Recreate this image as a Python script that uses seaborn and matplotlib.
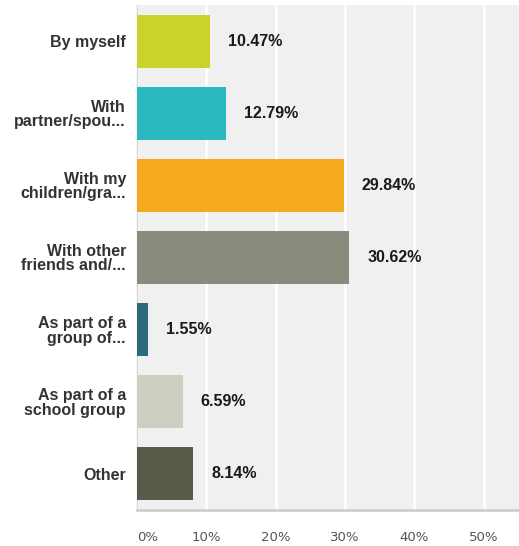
import matplotlib
matplotlib.use("Agg")
import matplotlib.pyplot as plt
import seaborn as sns
import pandas as pd

# Survey answers: who the respondent visits with
categories = [
    "By myself",
    "With\npartner/spou...",
    "With my\nchildren/gra...",
    "With other\nfriends and/...",
    "As part of a\ngroup of...",
    "As part of a\nschool group",
    "Other",
]
percentages = [10.47, 12.79, 29.84, 30.62, 1.55, 6.59, 8.14]
value_labels = ["10.47%", "12.79%", "29.84%", "30.62%", "1.55%", "6.59%", "8.14%"]
tick_values = [0, 10, 20, 30, 40, 50]
tick_labels = ["0%", "10%", "20%", "30%", "40%", "50%"]
bar_colors = ["#cbd22a", "#2cb8c0", "#f5a91f", "#8a8b7d", "#2b6b7c", "#cfcfc1", "#5a5a4b"]

df = pd.DataFrame({"category": categories, "pct": percentages})

sns.set_style("white")
plt.rcParams["font.family"] = ["Liberation Sans", "DejaVu Sans"]

fig = plt.figure(figsize=(5.19, 5.46), dpi=100)
ax = fig.add_axes([137 / 519, 1 - 510 / 546, 1 - 137 / 519, 505 / 546])
ax.set_facecolor("#f0f0f0")

sns.barplot(
    data=df, y="category", x="pct", hue="category", palette=bar_colors,
    orient="h", width=0.735, legend=False, ax=ax, saturation=1, zorder=3,
    linewidth=0, edgecolor="none",
)

ax.set_xlim(0, 55.1)
ax.set_ylim(len(categories) - 0.5, -0.5)
ax.set_xticks(tick_values)
ax.set_xticklabels(tick_labels, family="DejaVu Sans", fontsize=9.5, color="#555555")
# the zero label sits just right of the axis line
ax.get_xticklabels()[0].set_horizontalalignment("left")
ax.tick_params(axis="x", length=0, pad=15)
ax.tick_params(axis="y", length=0, pad=8)
for lbl in ax.get_yticklabels():
    lbl.set_fontweight("bold")
    lbl.set_fontsize(11.5)
    lbl.set_color("#333333")
    lbl.set_linespacing(0.95)
    lbl.set_horizontalalignment("right")
ax.set_xlabel("")
ax.set_ylabel("")

ax.grid(axis="x", color="white", linewidth=1.8, zorder=1)
ax.set_axisbelow(True)
for side in ["top", "right"]:
    ax.spines[side].set_visible(False)
ax.spines["left"].set_color("#d6d6d6")
ax.spines["left"].set_linewidth(1)
ax.spines["bottom"].set_color("#cfcfcf")
ax.spines["bottom"].set_linewidth(2)

for bar, text in zip(ax.patches, value_labels):
    ax.annotate(
        text,
        xy=(bar.get_width(), bar.get_y() + bar.get_height() / 2),
        xytext=(13, 0), textcoords="offset points",
        va="center", ha="left", fontsize=11.5, fontweight="bold", color="#1a1a1a",
    )

fig.savefig("out.png", dpi=100)
